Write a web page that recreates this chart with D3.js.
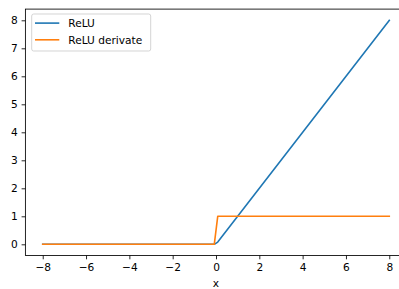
<!DOCTYPE html>
<html>
<head>
<meta charset="utf-8">
<script src="https://cdn.jsdelivr.net/npm/d3@7"></script>
<style>
  body { margin: 0; background: #fff; }
  svg { display: block; font-family: "DejaVu Sans", sans-serif; }
</style>
</head>
<body>
<svg id="chart" width="399" height="289"></svg>
<script>
// points (lines are straight between them)
const xs = [-8, -0.08, 0.08, 8]
const relu = [0, 0, 0.08, 8]
const reluDeriv = [0, 0, 1, 1]
const xTicks = [-8, -6, -4, -2, 0, 2, 4, 6, 8]
const yTicks = [0, 1, 2, 3, 4, 5, 6, 7, 8]
const seriesNames = ['ReLU', 'ReLU derivate']
const colors = ['#1f77b4', '#ff7f0e']

const fontSize = 10.6
const svg = d3.select('#chart')
const margin = {top: 9.1, left: 25.4}
const width = 381.2
const height = 246.4
const g = svg.append('g').attr('transform', 'translate(' + margin.left + ',' + margin.top + ')')

const x = d3.scaleLinear().domain([-8.8, 8.8]).range([0, width])
const y = d3.scaleLinear().domain([-0.4, 8.4]).range([height, 0])

const series = [relu, reluDeriv].map((vals, i) => ({
  name: seriesNames[i],
  color: colors[i],
  pts: xs.map((xv, j) => [xv, vals[j]])
}))

const line = d3.line().x(d => x(d[0])).y(d => y(d[1]))

g.selectAll('path.series')
  .data(series)
  .enter().append('path')
    .attr('class', 'series')
    .attr('fill', 'none')
    .attr('stroke', d => d.color)
    .attr('stroke-width', 1.6)
    .attr('stroke-linejoin', 'round')
    .attr('stroke-linecap', 'square')
    .attr('d', d => line(d.pts))

// axes
const xAxis = g.append('g')
  .attr('transform', 'translate(0,' + height + ')')
  .call(d3.axisBottom(x).tickValues(xTicks).tickSize(3.8).tickPadding(3.8).tickFormat(d3.format('d')))
const yAxis = g.append('g')
  .call(d3.axisLeft(y).tickValues(yTicks).tickSize(3.8).tickPadding(3.8).tickFormat(d3.format('d')))

;[xAxis, yAxis].forEach(a => {
  a.select('.domain').remove()
  a.selectAll('line').attr('stroke', '#000').attr('stroke-width', 0.85)
  a.selectAll('text').attr('fill', '#000').attr('font-size', fontSize).attr('font-family', '"DejaVu Sans", sans-serif')
})

// spines
g.append('rect')
  .attr('width', width).attr('height', height)
  .attr('fill', 'none').attr('stroke', '#000').attr('stroke-width', 0.85)

g.append('text')
  .attr('x', x(0)).attr('y', height + 31.5)
  .attr('text-anchor', 'middle')
  .attr('font-size', fontSize)
  .text('x')

// legend
const legend = g.append('g').attr('transform', 'translate(6.3,4.9)')
legend.append('rect')
  .attr('width', 119).attr('height', 37)
  .attr('rx', 2).attr('ry', 2)
  .attr('fill', '#fff').attr('fill-opacity', 0.8)
  .attr('stroke', '#cccccc').attr('stroke-width', 0.85)

const items = legend.selectAll('g.item')
  .data(series)
  .enter().append('g')
    .attr('class', 'item')
    .attr('transform', (d, i) => 'translate(0,' + (9.1 + i * 16.7) + ')')
items.append('line')
  .attr('x1', 3.3).attr('x2', 27.6)
  .attr('stroke', d => d.color).attr('stroke-width', 1.6)
items.append('text')
  .attr('x', 36.6).attr('dy', '0.35em')
  .attr('font-size', fontSize)
  .text(d => d.name)
</script>
</body>
</html>
